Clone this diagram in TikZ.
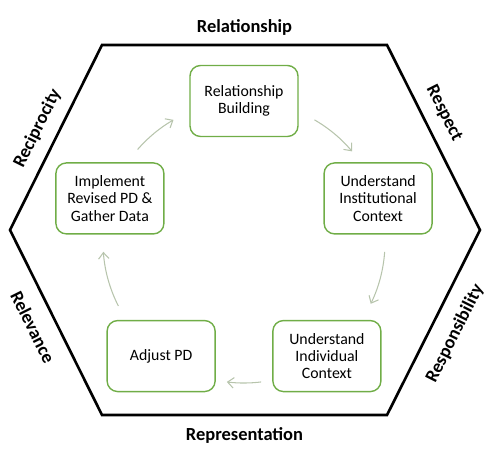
\documentclass[tikz,border=0pt]{standalone}
\usepackage{fontspec}
\setmainfont{Carlito}
\usepackage{tikz}
\usetikzlibrary{arrows.meta,positioning,calc}
\definecolor{stepgreen}{HTML}{70AD47}
\definecolor{cyclegray}{HTML}{B7C4AC}

\begin{document}
\begin{tikzpicture}[>={Straight Barb[length=3.5pt,width=6pt]},
   stage/.style={draw=stepgreen,line width=0.8pt,rounded corners=6pt,align=center,
     minimum width=2.16cm,minimum height=1.42cm,inner sep=2pt,
     font=\fontsize{9}{9.8}\selectfont},
   value/.style={font=\fontsize{10.5}{12}\selectfont\bfseries,inner sep=1pt},
   cyc/.style={->,draw=cyclegray,line width=0.6pt}]
  \useasboundingbox (0,0) rectangle (10,9.16);
  % hexagon of the six values
  \coordinate (h1) at (2.04,0.86);
  \coordinate (h2) at (7.74,0.86);
  \coordinate (h3) at (9.60,4.56);
  \coordinate (h4) at (7.74,8.26);
  \coordinate (h5) at (2.04,8.26);
  \coordinate (h6) at (0.20,4.56);
  \draw[line width=1.5pt] (h1) -- (h2) -- (h3) -- (h4) -- (h5) -- (h6) -- cycle;
  \path (h5) -- node[value,above=4pt]{Relationship} (h4);
  \path (h4) -- node[value,sloped,above=6pt,pos=0.42]{Respect} (h3);
  \path (h2) -- node[value,sloped,below=8pt]{Responsibility} (h3);
  \path (h1) -- node[value,below=6pt]{Representation} (h2);
  \path (h6) -- node[value,sloped,below=8pt,pos=0.47]{Relevance} (h1);
  \path (h6) -- node[value,sloped,above=6pt]{Reciprocity} (h5);
  % cycle of stages
  \coordinate (c) at (4.88,4.32);
  \node[stage] (rel) at ($(c)+(90:2.82)$) {Relationship\\Building};
  \node[stage] (inst) at ($(c)+(18:2.82)$) {Understand\\Institutional\\Context};
  \node[stage] (indiv) at ($(c)+(-54:2.82)$) {Understand\\Individual\\Context};
  \node[stage] (adj) at ($(c)+(-126:2.82)$) {Adjust PD};
  \node[stage] (impl) at ($(c)+(162:2.82)$) {Implement\\Revised PD \&\\Gather Data};
  \coordinate (a1) at ($(c)+(139:2.82)$);
  \coordinate (a2) at ($(c)+(60:2.82)$);
  \coordinate (a3) at ($(c)+(-4:2.82)$);
  \coordinate (a4) at ($(c)+(-83:2.82)$);
  \coordinate (a5) at ($(c)+(-153:2.82)$);
  \draw[cyc] (a1) arc[start angle=139,end angle=120,radius=2.82];
  \draw[cyc] (a2) arc[start angle=60,end angle=40,radius=2.82];
  \draw[cyc] (a3) arc[start angle=-4,end angle=-26,radius=2.82];
  \draw[cyc] (a4) arc[start angle=-83,end angle=-97,radius=2.82];
  \draw[cyc] (a5) arc[start angle=-153,end angle=-176,radius=2.82];
\end{tikzpicture}
\end{document}
